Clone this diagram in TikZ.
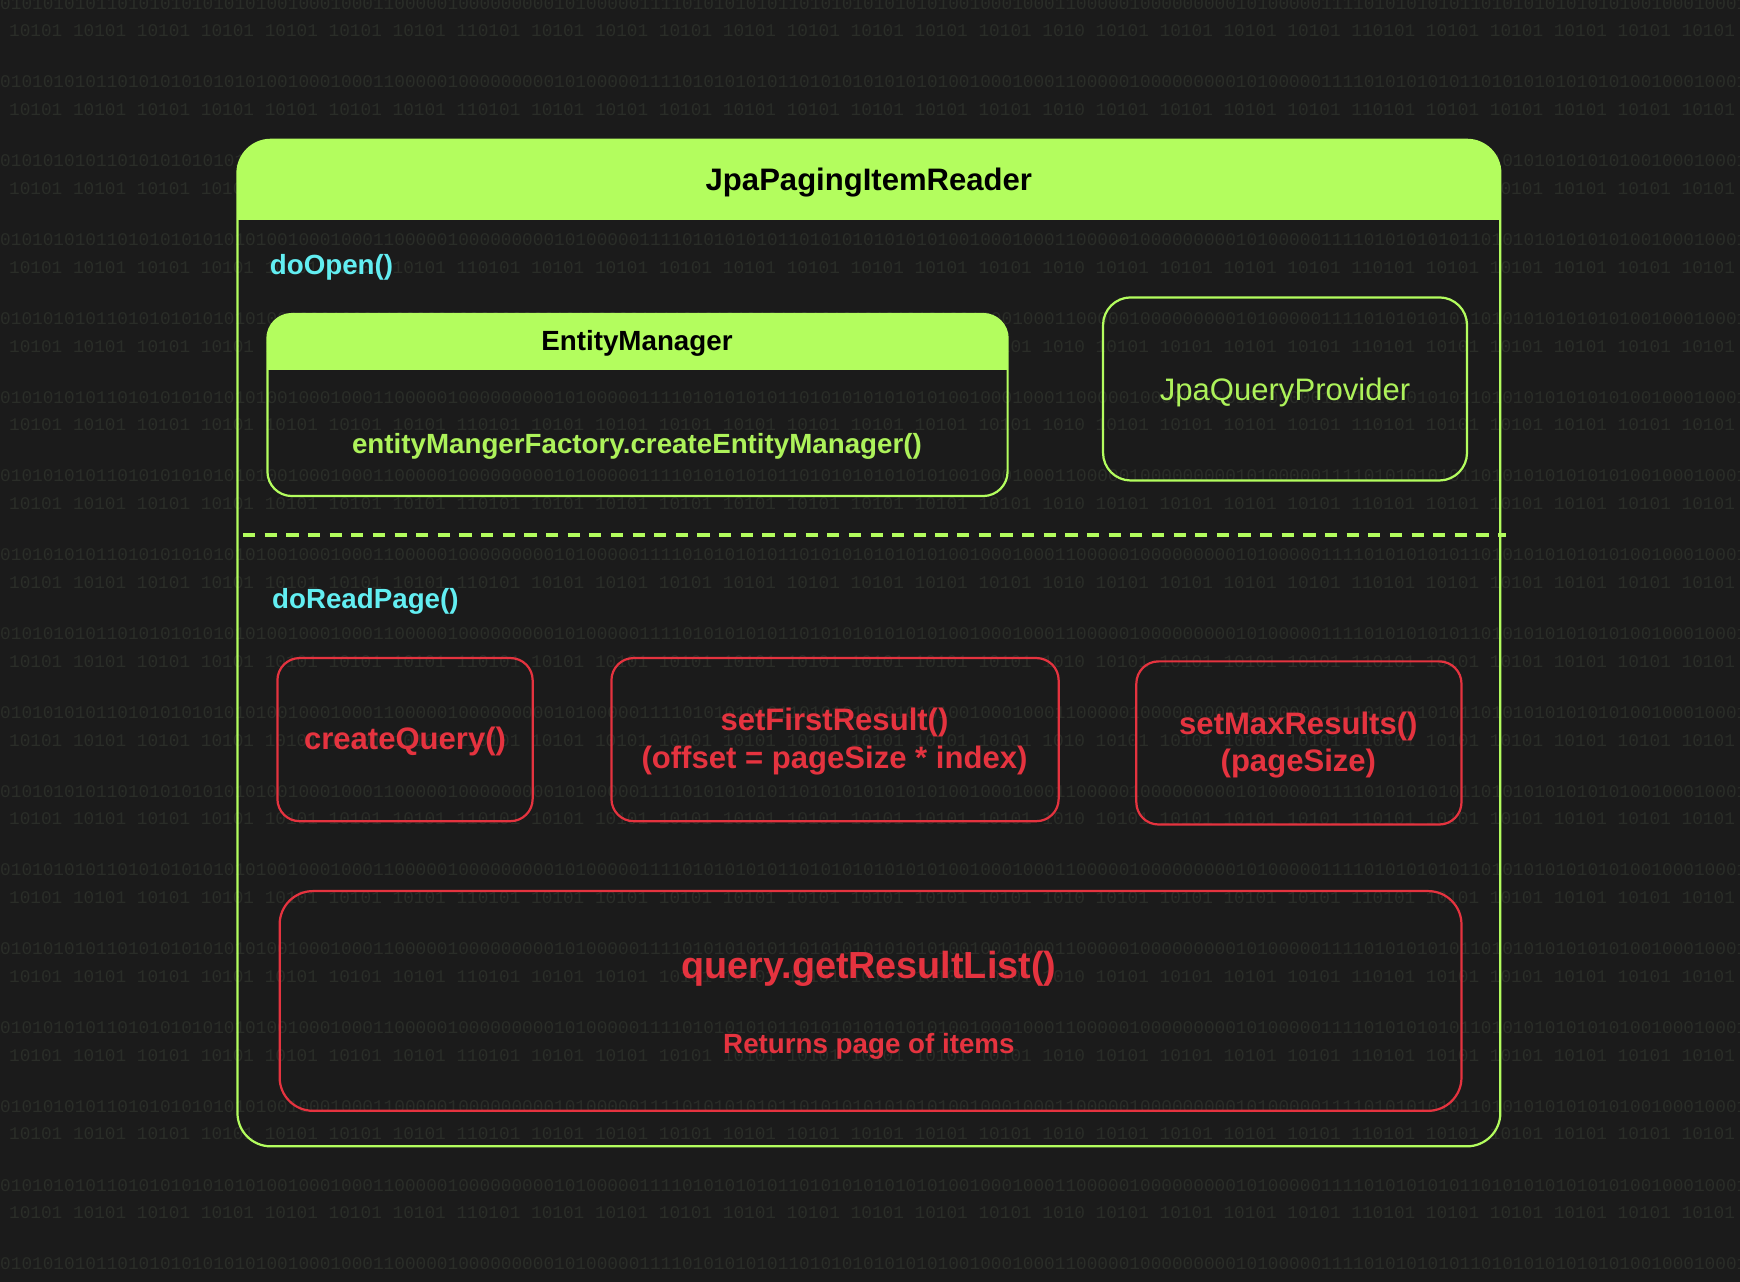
\documentclass[tikz,border=0pt]{standalone}
\usepackage{fontspec}
\setmainfont{Liberation Sans}
\newfontfamily\binfont{Liberation Mono}
\definecolor{bgc}{HTML}{1B1B1B}
\definecolor{bits}{HTML}{2A2D28}
\definecolor{lime}{HTML}{B3FD5E}
\definecolor{limetxt}{HTML}{ADF25A}
\definecolor{cyantxt}{HTML}{62EEF2}
\definecolor{redc}{HTML}{E5333F}
\tikzset{
  bitrow/.style={anchor=west, inner sep=0, text=bits, font=\binfont\fontsize{16}{16}\selectfont},
  greenbox/.style={draw=lime, line width=2pt, rounded corners=#1, rectangle, inner sep=0, outer sep=0},
  redbox/.style={draw=redc, line width=2pt, rounded corners=#1, rectangle, inner sep=0, outer sep=0},
  titletxt/.style={inner sep=0, text=black, font=\bfseries\fontsize{28}{34}\selectfont},
  subtitletxt/.style={inner sep=0, text=black, font=\bfseries\fontsize{25}{30}\selectfont},
  methodtxt/.style={inner sep=0, anchor=west, text=cyantxt, font=\bfseries\fontsize{25}{30}\selectfont},
  limebold/.style={inner sep=0, text=limetxt, font=\bfseries\fontsize{25}{30}\selectfont},
  limereg/.style={inner sep=0, text=limetxt, font=\fontsize{28}{34}\selectfont},
  redbold/.style={inner sep=0, text=redc, align=center, font=\bfseries\fontsize{28}{34}\selectfont},
  bigred/.style={inner sep=0, text=redc, font=\bfseries\fontsize{34}{40}\selectfont},
  redsub/.style={inner sep=0, text=redc, font=\bfseries\fontsize{25}{30}\selectfont},
  divider/.style={draw=lime, line width=3pt, dash pattern=on 11pt off 8.5pt}
}
\begin{document}
\begin{tikzpicture}[x=1pt,y=-1pt]
\useasboundingbox (0,0) rectangle (1568,1155);
\clip (0,0) rectangle (1568,1155);
\fill[bgc] (0,0) rectangle (1568,1155);
% background binary rows
\foreach \k in {0,...,16}{
  \node[bitrow, name=bitsA\k] at (0,{3+71*\k}) {0101010101101010101010101001000100011000001000000000101000001111010101010110101010101010100100010001100000100000000010100000111101010101011010101010101010010001000110000010000000001010000011110101};
  \node[bitrow, name=bitsB\k] at (8,{28+71*\k}) {10101 10101 10101 10101 10101 10101 10101 110101 10101 10101 10101 10101 10101 10101 10101 10101 1010 10101 10101 10101 10101 110101 10101 10101 10101 10101 10101 10101 10101 10101 10101};
}
% outer container
\node[greenbox=30, minimum width=1138pt, minimum height=907pt] (outer) at (783,579.5) {};
\begin{scope}
  \clip[rounded corners=30] (outer.north west) rectangle (outer.south east);
  \fill[lime] (outer.north west) rectangle (1352,198);
\end{scope}
\node[titletxt] (title) at (783,164.5) {JpaPagingItemReader};
\node[methodtxt] (doopen) at (243,240.5) {doOpen()};
% EntityManager
\node[greenbox=22, minimum width=667pt, minimum height=164pt] (em) at (574.5,365) {};
\begin{scope}
  \clip[rounded corners=22] (em.north west) rectangle (em.south east);
  \fill[lime] (em.north west) rectangle (908,333);
\end{scope}
\node[subtitletxt] (emtitle) at (574,309.5) {EntityManager};
\node[limebold] (emcall) at (574,402.5) {entityMangerFactory.createEntityManager()};
% JpaQueryProvider
\node[greenbox=25, minimum width=328pt, minimum height=165pt] (jqp) at (1158,350.5) {};
\node[limereg] (jqptxt) at (1158,353.5) {JpaQueryProvider};
% divider
\coordinate (dashL) at (219,482);
\coordinate (dashR) at (1357,482);
\draw[divider] (dashL) -- (dashR);
\node[methodtxt] (doread) at (245,541.5) {doReadPage()};
% doReadPage steps
\node[redbox=20, minimum width=230pt, minimum height=147pt] (cq) at (365,666.5) {};
\node[redbold] (cqtxt) at (365,668.5) {createQuery()};
\node[redbox=20, minimum width=403pt, minimum height=147pt] (sfr) at (752.5,666.5) {};
\node[redbold] (sfrtxt) at (752,668.5) {setFirstResult()\\(offset = pageSize * index)};
\node[redbox=20, minimum width=293pt, minimum height=147pt] (smr) at (1170.5,669.5) {};
\node[redbold] (smrtxt) at (1170,671.5) {setMaxResults()\\(pageSize)};
\node[redbox=30, minimum width=1065pt, minimum height=198pt] (qry) at (784.5,902) {};
\node[bigred] (qrytxt) at (783,873) {query.getResultList()};
\node[redsub] (qrysub) at (783,942.5) {Returns page of items};
\end{tikzpicture}
\end{document}
